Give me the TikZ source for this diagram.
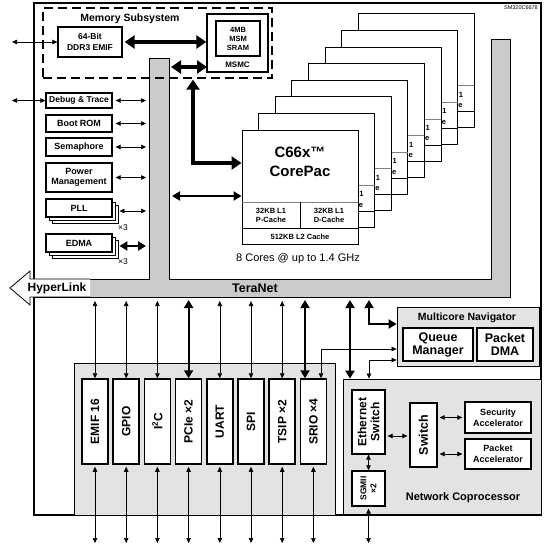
\documentclass[tikz,border=0pt]{standalone}
\usepackage{fontspec}
\setmainfont{Liberation Sans}
\usetikzlibrary{positioning,arrows.meta,calc}
\definecolor{tnGray}{HTML}{CBCBCB}
\definecolor{boxGray}{HTML}{E3E3E3}
\newcommand\fsz[2]{\fontsize{#1}{#2}\selectfont}

\begin{document}
\begin{tikzpicture}[x=1pt, y=-1pt,
    lnk/.style={<->, >={Triangle[length=5pt,width=4.5pt]}, line width=0.6pt},
    lnkmed/.style={<->, >={Triangle[length=8pt,width=9pt]}, line width=2.2pt},
    lnkfat/.style={<->, >={Triangle[length=10pt,width=13pt]}, line width=4pt},
    sidebox/.style={draw, fill=white, line width=1.3pt, minimum width=66pt, align=center, inner sep=0pt, font=\bfseries\fsz{9}{10.5}},
    corebox/.style={draw, fill=white, line width=0.9pt, minimum width=116pt, minimum height=114pt},
    cachetxt/.style={align=center, inner sep=0pt, font=\bfseries\fsz{7.5}{9.5}},
    pbox/.style={draw, fill=white, line width=1.5pt, rotate=90, minimum width=85pt, minimum height=26pt, inner sep=0pt, font=\bfseries\fsz{12}{14}},
    ncbox/.style={draw, fill=white, line width=1.3pt, align=center, inner sep=0pt},
    grayarea/.style={draw, fill=boxGray, line width=0.8pt}]
  \useasboundingbox (0,0) rectangle (554,545);

  % device outline
  \node[draw, line width=1.2pt, minimum width=507pt, minimum height=512pt, inner sep=0pt] (chip) at (287.5,259) {};
  \node[anchor=north east, font=\fsz{5.5}{6}, inner sep=0pt] (partno) at (538,5) {SM320C6678};

  % TeraNet
  \draw[fill=tnGray, line width=0.8pt] (149,58) -- (169,58) -- (169,279) -- (491,279) -- (491,39) -- (510,39) -- (510,297) -- (34,297) -- (34,279) -- (149,279) -- cycle;
  \coordinate (tnLeft) at (149,0);
  \coordinate (tnIn) at (169,0);
  \coordinate (tnBot) at (0,297);
  \draw[fill=white, line width=0.8pt] (90,279) -- (30,279) -- (30,271) -- (10,288) -- (30,305) -- (30,297) -- (90,297);
  \node[font=\bfseries\fsz{12}{14}, inner sep=0pt] (hyper) at (57,288) {HyperLink};
  \node[anchor=east, font=\bfseries\fsz{12.5}{14}, inner sep=0pt] (teranet) at (278,288) {TeraNet};

  % memory subsystem
  \node[draw, dash pattern=on 9pt off 5pt, line width=1.3pt, minimum width=229pt, minimum height=70pt] (memsys) at (157.5,43) {};
  \node[font=\bfseries\fsz{10.5}{12}] (memlbl) at (130,19) {Memory Subsystem};
  \node[sidebox, minimum width=64pt, minimum height=30pt, font=\bfseries\fsz{8.5}{10.5}] (ddr) at (90,42) {64-Bit\\DDR3 EMIF};
  \node[draw, fill=white, line width=1.3pt, minimum width=61pt, minimum height=58pt] (msmc) at (237.5,43) {};
  \node[sidebox, minimum width=44pt, minimum height=35pt, font=\bfseries\fsz{7.5}{9}] (sram) at (238,38.5) {4MB\\MSM\\SRAM};
  \node[font=\bfseries\fsz{8}{9}] (msmclbl) at (237.5,65) {MSMC};
  \coordinate (pinL) at (12,0);
  \coordinate (msmcport) at (207,67);
  \draw[lnk] (ddr.west -| pinL) -- (ddr.west);
  \draw[lnkfat, shorten <=2pt] (ddr.east) -- (ddr.east -| msmc.west);
  \draw[lnkfat, shorten <=2pt] (msmcport -| tnIn) -- (msmcport);

  % system peripherals on the left
  \node[sidebox, minimum height=15pt, font=\bfseries\fsz{8.5}{9}] (dbg) at (79,100.5) {Debug \& Trace};
  \node[sidebox, minimum height=17pt] (rom) at (79,123.5) {Boot ROM};
  \node[sidebox, minimum height=18pt] (sem) at (79,147) {Semaphore};
  \node[sidebox, minimum height=29pt] (pwr) at (79,177.5) {Power\\Management};
  \foreach \d in {6,3}
    \node[sidebox, minimum height=18pt, line width=0.9pt] (pllsh\d) at (79+\d,208+\d) {};
  \node[sidebox, minimum height=18pt] (pll) at (79,208) {PLL};
  \node[font=\fsz{8.5}{9}] (pllx) at (123,228) {×3};
  \foreach \d in {6,3}
    \node[sidebox, minimum height=18pt, line width=0.9pt] (edmash\d) at (79+\d,243+\d) {};
  \node[sidebox, minimum height=18pt] (edma) at (79,243) {EDMA};
  \node[font=\fsz{8.5}{9}] (edmax) at (123,262) {×3};
  \draw[lnk] (dbg.west -| pinL) -- (dbg.west);
  \foreach \b in {dbg,rom,sem,pwr}
    \draw[lnk, shorten <=3pt, shorten >=3pt] (\b.east) -- (\b.east -| tnLeft);
  \draw[lnk, shorten <=4pt, shorten >=3pt] (pllsh3.east) -- (pllsh3.east -| tnLeft);
  \draw[lnkmed, shorten <=4pt, shorten >=3pt] (edmash3.east) -- (edmash3.east -| tnLeft);

  % eight CorePacs, back to front
  \foreach \k in {7,6,...,1}{
    \begin{scope}[shift={({16.6*\k},{-16.6*\k})}]
      \node[corebox] (core\k) at (300,187) {};
      \draw[gray, line width=0.6pt] (242,202) -- (358,202);
      \draw[line width=0.6pt] (242,228) -- (358,228);
      \node[cachetxt, anchor=west] (one\k) at (342.5,211) {1};
      \node[cachetxt, anchor=west] (e\k) at (342,222) {e};
    \end{scope}
  }
  \node[corebox] (core0) at (300,187) {};
  \draw[gray, line width=0.6pt] (242,202) -- (358,202);
  \draw[line width=0.6pt] (242,228) -- (358,228) (300,202) -- (300,228);
  \node[cachetxt] (l1p) at (271,215.5) {32KB L1\\P-Cache};
  \node[cachetxt] (l1d) at (329,215.5) {32KB L1\\D-Cache};
  \node[cachetxt] (l2) at (300,236.5) {512KB L2 Cache};
  \node[font=\bfseries\fsz{15}{17}] (c66) at (300,152) {C66x\texttrademark};
  \node[font=\bfseries\fsz{15}{17}] (corepac) at (300,171) {CorePac};
  \node[font=\fsz{11}{12}] (cores) at (298,259) {8 Cores @ up to 1.4 GHz};
  \coordinate (upjoin) at (193,163);
  \coordinate (corelink) at (0,196);
  \draw[lnkfat, shorten <=1pt] (memsys.south -| upjoin) -- (upjoin) -- (upjoin -| core0.west);
  \draw[lnkmed, shorten <=3pt] (corelink -| tnIn) -- (corelink -| core0.west);

  % peripherals below TeraNet
  \node[grayarea, minimum width=261pt, minimum height=152pt] (pcont) at (204.5,439) {};
  \foreach \n/\t [count=\i from 0] in {emif/EMIF 16, gpio/GPIO, i2c/I\textsuperscript{2}C, pcie/PCIe ×2, uart/UART, spi/SPI, tsip/TSIP ×2, srio/SRIO ×4}
    \node[pbox] (\n) at (95+31.2*\i,421.5) {\t};
  \coordinate (pinB) at (0,543);
  \coordinate (sriofat) at (305,0);
  \foreach \n in {emif,gpio,i2c,uart,spi,tsip}
    \draw[lnk, shorten <=4pt] (\n.east |- tnBot) -- (\n.east);
  \draw[lnkmed, shorten <=3pt] (pcie.east |- tnBot) -- (pcie.east);
  \draw[lnkmed, shorten <=3pt] (tnBot -| sriofat) -- (srio.east -| sriofat);
  \foreach \n in {emif,gpio,i2c,pcie,uart,spi,tsip,srio}
    \draw[lnk, shorten <=2pt] (\n.west) -- (\n.west |- pinB);

  % multicore navigator
  \node[grayarea, minimum width=142pt, minimum height=59pt] (mnav) at (468,336.5) {};
  \node[font=\bfseries\fsz{10.5}{12}] (mnavlbl) at (467,318) {Multicore Navigator};
  \node[ncbox, minimum width=70pt, minimum height=33pt, font=\bfseries\fsz{12.5}{13}] (qm) at (438,344.5) {Queue\\Manager};
  \node[ncbox, minimum width=56pt, minimum height=33pt, font=\bfseries\fsz{12.5}{13}] (pdma) at (505,344.5) {Packet\\DMA};

  % network coprocessor
  \node[grayarea, minimum width=198pt, minimum height=135pt] (netcp) at (442,446.5) {};
  \node[ncbox, rotate=90, minimum width=64pt, minimum height=33pt, font=\bfseries\fsz{12}{13}] (eth) at (368.5,422) {Ethernet\\Switch};
  \node[ncbox, rotate=90, minimum width=35pt, minimum height=33pt, font=\bfseries\fsz{8.5}{10}] (sgmii) at (368.5,488.5) {SGMII\\×2};
  \node[ncbox, rotate=90, minimum width=64pt, minimum height=27pt, font=\bfseries\fsz{12.5}{13}] (sw) at (423.5,435) {Switch};
  \node[ncbox, minimum width=66pt, minimum height=31pt, font=\bfseries\fsz{9}{11}] (sec) at (498,417.5) {Security\\Accelerator};
  \node[ncbox, minimum width=66pt, minimum height=30pt, font=\bfseries\fsz{9}{11}] (pa) at (498,454) {Packet\\Accelerator};
  \node[font=\bfseries\fsz{11}{12}] (netlbl) at (463,498) {Network Coprocessor};
  \coordinate (swlink) at (0,436);
  \draw[lnk] (eth.west) -- (sgmii.east);
  \draw[lnk, shorten <=2pt, shorten >=2pt] (eth.south |- swlink) -- (sw.north |- swlink);
  \draw[lnk, shorten <=2pt, shorten >=2pt] (sw.south |- sec.west) -- (sec.west);
  \draw[lnk, shorten <=2pt, shorten >=2pt] (sw.south |- pa.west) -- (pa.west);
  \draw[lnk, shorten <=2pt] (sgmii.west) -- (sgmii.west |- pinB);

  % links to navigator and coprocessor
  \coordinate (navup) at (369,324);
  \coordinate (qmlink) at (321,349);
  \coordinate (nclink) at (369,360);
  \coordinate (ncfat) at (350,0);
  \draw[lnkmed, shorten <=3pt] (tnBot -| navup) -- (navup) -- (navup -| mnav.west);
  \draw[lnk] (srio.east -| qmlink) -- (qmlink) -- (qmlink -| mnav.west);
  \draw[lnk] (netcp.north -| nclink) -- (nclink) -- (nclink -| mnav.west);
  \draw[lnkmed, shorten <=3pt] (tnBot -| ncfat) -- (netcp.north -| ncfat);
\end{tikzpicture}
\end{document}
